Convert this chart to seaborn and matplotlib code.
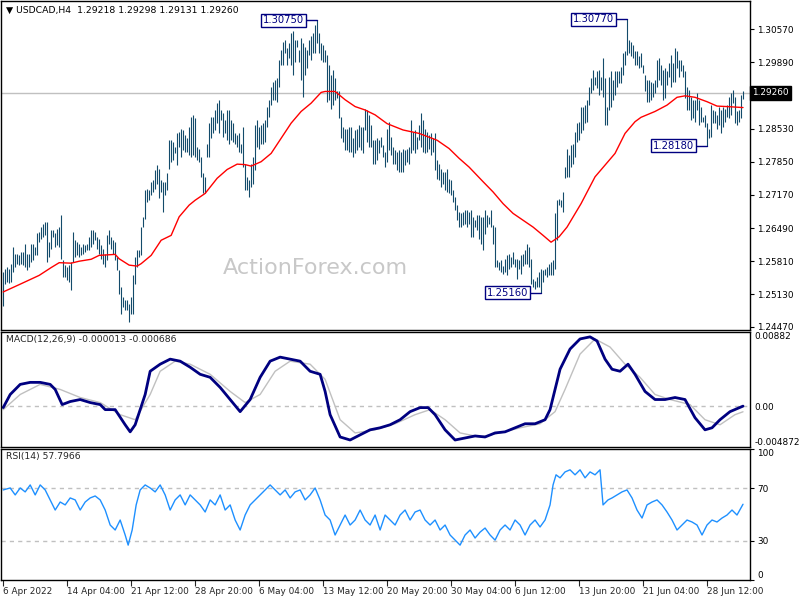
import numpy as np
import matplotlib
matplotlib.use("Agg")
import matplotlib.pyplot as plt
import seaborn as sns

# USDCAD H4 bars, high/low in pips (1e-4)
highs = np.array([
    12559, 12566, 12569, 12566, 12576, 12610, 12596, 12596, 12593, 12600,
    12600, 12617, 12596, 12596, 12617, 12617, 12610, 12638, 12641, 12651,
    12658, 12662, 12662, 12620, 12645, 12645, 12638, 12648, 12651, 12675,
    12583, 12573, 12569, 12573, 12579, 12641, 12624, 12620, 12617, 12610,
    12617, 12614, 12617, 12631, 12645, 12645, 12641, 12631, 12627, 12614,
    12607, 12596, 12634, 12645, 12631, 12624, 12620, 12590, 12562, 12528,
    12507, 12501, 12501, 12494, 12507, 12552, 12590, 12603, 12603, 12651,
    12672, 12727, 12730, 12727, 12744, 12747, 12768, 12778, 12771, 12747,
    12744, 12744, 12761, 12829, 12829, 12826, 12816, 12843, 12846, 12853,
    12850, 12840, 12833, 12857,
    12877, 12881, 12874, 12816, 12812, 12795, 12761, 12754, 12822, 12864,
    12877, 12877, 12891, 12905, 12912, 12891, 12884, 12870, 12891, 12891,
    12870, 12864, 12843, 12840, 12843, 12822, 12857, 12781, 12754, 12747,
    12781, 12795, 12860, 12870, 12857, 12860, 12864, 12870, 12898, 12912,
    12939, 12949, 12953, 12956, 12994, 13014, 13031, 13035, 13018, 13028,
    13049, 13052, 13035, 13035, 13014, 13038, 13028, 13021, 13014, 13035,
    13042, 13049, 13066, 13075, 13049, 13028, 13025, 13014, 13004, 12983,
    12963, 12973, 12956, 12929, 12929, 12877, 12857, 12853, 12853, 12857,
    12857, 12833, 12850, 12853, 12860, 12857, 12857, 12894, 12891, 12881,
    12860, 12829,
    12829, 12833, 12829, 12836, 12819, 12805, 12853, 12867, 12836, 12816,
    12809, 12805, 12809, 12805, 12812, 12809, 12812, 12816, 12870, 12846,
    12850, 12836, 12860, 12884, 12870, 12853, 12846, 12840, 12843, 12833,
    12843, 12788, 12781, 12771, 12764, 12764, 12771, 12750, 12747, 12727,
    12713, 12696, 12682, 12679, 12682, 12685, 12685, 12682, 12685, 12672,
    12665, 12675, 12675, 12672, 12672, 12685, 12675, 12672, 12685, 12655,
    12651, 12583, 12579, 12583, 12572, 12586, 12593, 12596, 12590, 12600,
    12586, 12586, 12583, 12593, 12596, 12603, 12617, 12610, 12586, 12545,
    12541, 12548, 12559, 12566, 12562, 12566, 12569, 12576, 12579, 12583,
    12679, 12706, 12709, 12706,
    12723, 12775, 12812, 12798, 12819, 12822, 12846, 12864, 12867, 12898,
    12898, 12901, 12912, 12939, 12956, 12973, 12959, 12970, 12973, 12959,
    12997, 12956, 12898, 12959, 12970, 12953, 12970, 12970, 12970, 12980,
    13007, 13011, 13077, 13035, 13031, 13025, 13011, 13011, 13001, 13007,
    12983, 12963, 12953, 12953, 12949, 12946, 12953, 12994, 12997, 12983,
    12973, 12977, 12970, 12987, 13004, 12987, 13018, 13011, 12994, 12994,
    12983, 12970, 12939, 12932, 12918, 12912, 12912, 12925, 12912, 12898,
    12877, 12881, 12864, 12853, 12901, 12891, 12888, 12881, 12898, 12891,
    12898, 12894, 12901, 12918, 12925, 12932, 12918, 12888, 12891, 12922,
    12930]) / 1e4

lows = np.array([
    12490, 12535, 12538, 12536, 12538, 12559, 12569, 12576, 12573, 12576,
    12573, 12569, 12562, 12569, 12579, 12583, 12593, 12593, 12620, 12627,
    12631, 12634, 12579, 12590, 12607, 12631, 12610, 12614, 12610, 12586,
    12548, 12548, 12542, 12538, 12521, 12579, 12590, 12593, 12590, 12593,
    12596, 12600, 12603, 12603, 12610, 12617, 12624, 12607, 12596, 12586,
    12576, 12569, 12583, 12617, 12607, 12596, 12583, 12562, 12514, 12473,
    12487, 12480, 12480, 12456, 12473, 12473, 12535, 12569, 12590, 12593,
    12651, 12668, 12703, 12706, 12716, 12723, 12730, 12740, 12710, 12723,
    12682, 12716, 12727, 12771, 12785, 12788, 12802, 12778, 12816, 12795,
    12809, 12805, 12805, 12799,
    12795, 12798, 12795, 12788, 12785, 12754, 12720, 12720, 12795, 12795,
    12833, 12843, 12850, 12864, 12843, 12870, 12836, 12843, 12829, 12822,
    12829, 12826, 12822, 12816, 12805, 12802, 12775, 12727, 12727, 12713,
    12733, 12740, 12768, 12816, 12812, 12822, 12822, 12826, 12857, 12877,
    12901, 12912, 12912, 12908, 12939, 12983, 12983, 13007, 12983, 12997,
    12983, 12963, 12990, 13021, 12990, 12953, 12918, 12963, 12977, 13004,
    12994, 13007, 13007, 13028, 13007, 12994, 12990, 12990, 12908, 12912,
    12894, 12901, 12912, 12915, 12874, 12833, 12826, 12809, 12809, 12805,
    12805, 12795, 12802, 12809, 12816, 12809, 12802, 12850, 12826, 12816,
    12816, 12781,
    12781, 12788, 12802, 12816, 12795, 12774, 12785, 12809, 12798, 12781,
    12781, 12768, 12764, 12764, 12764, 12778, 12785, 12781, 12802, 12809,
    12802, 12812, 12829, 12816, 12805, 12802, 12805, 12812, 12798, 12805,
    12768, 12750, 12747, 12733, 12740, 12727, 12723, 12720, 12716, 12703,
    12685, 12665, 12651, 12651, 12655, 12658, 12651, 12658, 12631, 12631,
    12651, 12644, 12627, 12617, 12603, 12637, 12651, 12658, 12651, 12617,
    12569, 12569, 12562, 12559, 12555, 12559, 12552, 12566, 12569, 12576,
    12569, 12545, 12566, 12555, 12572, 12576, 12576, 12569, 12535, 12528,
    12524, 12528, 12528, 12516, 12538, 12552, 12548, 12552, 12552, 12552,
    12566, 12624, 12696, 12692,
    12682, 12751, 12754, 12754, 12775, 12781, 12795, 12826, 12829, 12843,
    12850, 12864, 12867, 12901, 12925, 12932, 12942, 12936, 12922, 12932,
    12918, 12860, 12860, 12891, 12898, 12912, 12922, 12939, 12946, 12946,
    12963, 12983, 13004, 13007, 13001, 12997, 12983, 12983, 12977, 12980,
    12966, 12929, 12908, 12908, 12912, 12918, 12925, 12939, 12953, 12942,
    12912, 12915, 12942, 12959, 12939, 12949, 12949, 12977, 12959, 12970,
    12959, 12915, 12891, 12891, 12870, 12874, 12867, 12891, 12860, 12867,
    12867, 12857, 12818, 12833, 12836, 12864, 12864, 12853, 12860, 12843,
    12857, 12867, 12877, 12874, 12881, 12905, 12864, 12860, 12867, 12874,
    12913]) / 1e4

last_close = 1.29260
title_text = "\u25bc USDCAD,H4  1.29218 1.29298 1.29131 1.29260"

# red moving average (bar index, price in pips)
ma_idx = [0, 8, 18, 24, 28, 34, 38, 44, 48, 56, 58, 63, 67, 69, 74, 79, 84, 88, 93,
          96, 101, 107, 112, 117, 121, 124, 129, 134, 139, 144, 149, 154, 159, 161,
          166, 171, 176, 181, 186, 192, 200, 208, 217, 223, 228, 233, 240, 245, 250,
          255, 260, 265, 270, 274, 278, 282, 289, 296, 301, 306, 311, 316, 319, 326,
          332, 337, 341, 346, 352, 357, 362, 370]
ma_val = np.array([12518, 12533, 12552, 12568, 12578, 12577, 12581, 12585, 12593, 12595,
          12586, 12573, 12571, 12576, 12593, 12624, 12634, 12672, 12696,
          12706, 12720, 12751, 12769, 12780, 12779, 12776, 12785, 12802, 12833,
          12864, 12888, 12905, 12927, 12929, 12929, 12912, 12898, 12891, 12881,
          12863, 12850, 12843, 12829, 12812, 12792, 12774, 12744, 12723, 12699,
          12679, 12665, 12651, 12634, 12620, 12631, 12651, 12699, 12754, 12778,
          12802, 12843, 12867, 12876, 12888, 12901, 12917, 12920, 12917, 12908,
          12899, 12898, 12896]) / 1e4

# MACD(12,26,9) main line
macd_idx = [0, 3.5, 8.5, 13.5, 18.5, 23.5, 26, 29.5, 33.5, 38.5, 43.5, 48.5, 51, 56,
            61, 63.5, 66, 71, 73.5, 78.5, 83.5, 88.5, 93.5, 98.5, 103.5, 108.5,
            113.5, 118.5, 123.5, 128.5, 133.5, 138.5, 143.5, 148.5, 153.5, 158.5,
            161, 163.5, 168.5, 173.5, 178.5, 183.5, 188.5, 193.5, 198.5, 203.5,
            208.5, 212.5, 216, 221, 226, 231, 236, 241, 246, 251, 256, 261, 266,
            271, 273.5, 276, 278.5, 283.5, 288.5, 293.5, 297, 301, 304.5, 308.5,
            312.5, 316, 321, 326, 331, 336, 341, 346, 351, 354.5, 358.5, 363.5, 370]
macd_val = [-0.00019, 0.00137, 0.00257, 0.00281, 0.00281, 0.00257, 0.00197, 0.00017,
            0.00053, 0.00077, 0.00041, 0.00017, -0.00043, -0.00043, -0.00223, -0.00307,
            -0.00223, 0.00137, 0.00413, 0.00497, 0.00557, 0.00533, 0.00461, 0.00377,
            0.00341, 0.00221, 0.00077, -0.00067, 0.00077, 0.00341, 0.00533, 0.00581,
            0.00557, 0.00533, 0.00413, 0.00377, 0.00173, -0.00103, -0.00368, -0.00404,
            -0.00343, -0.00283, -0.00259, -0.00223, -0.00163, -0.00067, -0.00019,
            -0.00019, -0.00103, -0.00283, -0.00404, -0.00380, -0.00356, -0.00368,
            -0.00320, -0.00307, -0.00259, -0.00211, -0.00211, -0.00163, -0.00043,
            0.00197, 0.00437, 0.00677, 0.00797, 0.00822, 0.00773, 0.00557, 0.00437,
            0.00413, 0.00497, 0.00377, 0.00173, 0.00077, 0.00077, 0.00101, 0.00077,
            -0.00139, -0.00283, -0.00259, -0.00163, -0.00067, -0.000013]

# MACD signal line
sig_idx = [0, 8.5, 18.5, 28.5, 38.5, 48.5, 58.5, 66, 73.5, 78.5, 86, 93.5, 103.5, 113.5,
           121, 128.5, 136, 143.5, 153.5, 161, 168.5, 176, 186, 196, 206, 213.5, 221,
           228.5, 238.5, 248.5, 258.5, 268.5, 276, 281, 288.5, 296, 303.5, 311, 318.5,
           326, 333.5, 343.5, 351, 358.5, 366, 370]
sig_val = [-0.00043, 0.00137, 0.00257, 0.00197, 0.00101, 0.00041, -0.00103, -0.00163,
           0.00137, 0.00413, 0.00533, 0.00497, 0.00377, 0.00173, 0.00041, 0.00137,
           0.00413, 0.00533, 0.00497, 0.00317, -0.00163, -0.00320, -0.00283, -0.00211,
           -0.00103, -0.00043, -0.00163, -0.00320, -0.00368, -0.00320, -0.00259,
           -0.00211, -0.00067, 0.00197, 0.00617, 0.00797, 0.00701, 0.00497, 0.00341,
           0.00137, 0.00077, 0.00017, -0.00163, -0.00223, -0.00103, -0.000686]
macd_min, macd_max = -0.004872, 0.00882

# RSI(14)
rsi_idx = [0, 3.5, 6, 8.5, 11, 13.5, 16, 18.5, 21, 23.5, 26, 28.5, 31, 33.5, 36, 38.5,
           41, 43.5, 46, 48.5, 51, 53.5, 56, 58.5, 61, 62.5, 64.5, 66.5, 68.5, 71, 73.5,
           76, 78.5, 81, 83.5, 86, 88.5, 91, 93.5, 96, 98.5, 101, 103.5, 106, 108.5,
           111, 113.5, 116, 118.5, 121, 123.5, 126, 128.5, 131, 133.5, 136, 138.5, 141,
           143.5, 146, 148.5, 151, 153.5, 156, 158.5, 161, 163.5, 166, 168.5, 171,
           173.5, 176, 178.5, 181, 183.5, 186, 188.5, 191, 193.5, 196, 198.5, 201,
           203.5, 206, 208.5, 211, 213.5, 216, 218.5, 221, 223.5, 226, 228.5, 231,
           233.5, 236, 238.5, 241, 243.5, 246, 248.5, 251, 253.5, 256, 258.5, 261,
           263.5, 266, 268.5, 271, 273.5, 275, 276.5, 278.5, 281, 283.5, 286, 288.5,
           291, 293.5, 296, 298.5, 300, 302.5, 304.5, 307, 309.5, 312, 314.5, 317,
           319.5, 322, 324.5, 327, 329.5, 332, 334.5, 337, 339.5, 342, 344.5, 347,
           349.5, 352, 354.5, 357, 359.5, 362, 364.5, 367, 370]
rsi_val = [68.7, 70.2, 64.9, 70.2, 67.2, 72.5, 64.9, 72.5, 68.7, 61.1, 53.4, 59.5, 57.3,
           62.6, 61.1, 53.4, 59.5, 62.6, 64.1, 61.1, 53.4, 42.0, 38.2, 45.8, 34.4, 26.7,
           38.2, 57.3, 68.7, 72.5, 70.2, 67.2, 72.5, 64.9, 53.4, 61.1, 64.9, 57.3, 64.9,
           61.1, 57.3, 51.9, 61.1, 57.3, 64.9, 53.4, 57.3, 45.8, 38.2, 49.6, 57.3, 61.1,
           64.9, 68.7, 72.5, 68.7, 64.9, 68.7, 62.6, 67.2, 68.7, 61.1, 64.9, 70.2, 61.1,
           49.6, 45.8, 34.4, 42.0, 49.6, 42.0, 45.8, 53.4, 45.8, 42.0, 49.6, 38.2, 49.6,
           45.8, 42.0, 49.6, 53.4, 45.8, 51.9, 53.4, 45.8, 42.0, 45.8, 38.2, 42.0, 34.4,
           30.5, 26.7, 34.4, 38.2, 32.1, 36.6, 39.7, 34.4, 30.5, 38.2, 42.0, 38.2, 45.8,
           42.0, 34.4, 42.0, 45.8, 40.5, 45.8, 57.3, 72.5, 80.2, 77.9, 82.4, 84.0, 80.2,
           84.0, 77.9, 82.4, 80.2, 84.0, 57.3, 61.1, 62.6, 64.9, 67.2, 68.7, 62.6, 53.4,
           47.3, 57.3, 59.5, 61.1, 57.3, 51.9, 45.8, 38.2, 42.0, 45.8, 44.3, 42.0, 34.4,
           42.0, 45.8, 44.3, 47.3, 49.6, 53.4, 49.6, 57.8]
rsi_last = 57.7966

price_ticks = [1.24470, 1.25130, 1.25810, 1.26490, 1.27170, 1.27850, 1.28530, 1.29890, 1.30570]
date_pos = [0, 32, 64, 96, 128, 160, 192, 224, 256, 288, 320, 352]
date_labels = ["6 Apr 2022", "14 Apr 04:00", "21 Apr 12:00", "28 Apr 20:00", "6 May 04:00",
               "13 May 12:00", "20 May 20:00", "30 May 04:00", "6 Jun 12:00",
               "13 Jun 20:00", "21 Jun 04:00", "28 Jun 12:00"]

sns.set_theme(style="white")
plt.rcParams['font.family'] = ['DejaVu Sans']
plt.rcParams['axes.edgecolor'] = 'black'
plt.rcParams['axes.linewidth'] = 1.0

BAR_C = '#134b6b'
NAVY = '#000080'
GREY = '#c0c0c0'
FS = 6.4

fig = plt.figure(figsize=(8, 6), dpi=100)
L, W = 0.0015, 0.936
ax1 = fig.add_axes([L, 0.450, W, 0.548])
ax2 = fig.add_axes([L, 0.255, W, 0.192])
ax3 = fig.add_axes([L, 0.033, W, 0.219])
bars = np.arange(len(highs))
xlim = (-1, 373.5)

for ax in (ax1, ax2, ax3):
    ax.set_xlim(*xlim)
    ax.yaxis.tick_right()
    ax.tick_params(axis='y', direction='out', length=3, width=0.8, labelsize=FS,
                   colors='black', pad=2, right=True, left=False)
    ax.tick_params(axis='x', bottom=False, labelbottom=False)
    for s in ax.spines.values():
        s.set_color('black')
        s.set_linewidth(1)

# ---- price panel
ax1.set_ylim(1.2440, 1.3114)
ax1.axhline(last_close, color=GREY, lw=1, zorder=1)
ax1.vlines(bars, lows, highs, color=BAR_C, lw=0.8, zorder=2)
sns.lineplot(x=ma_idx, y=ma_val, ax=ax1, color='red', lw=1, zorder=3)
ax1.set_yticks(price_ticks)
ax1.set_yticklabels([f"{t:.5f}" for t in price_ticks])
ax1.text(1.003, last_close, f"{last_close:.5f}", transform=ax1.get_yaxis_transform(),
         ha='left', va='center', fontsize=FS, color='white',
         bbox=dict(boxstyle='square,pad=0.25', fc='black', ec='black'))
ax1.text(0.006, 0.972, title_text, transform=ax1.transAxes, fontsize=FS + 0.3,
         ha='left', va='center', color='black')
ax1.text(0.42, 0.19, "ActionForex.com", transform=ax1.transAxes, fontsize=16,
         color='#c8c8c8', ha='center', va='center')

# swing high / low labels
i_h1 = int(np.argmax(highs[:250]))
i_h2 = 250 + int(np.argmax(highs[250:]))
i_l1 = 200 + int(np.argmin(lows[200:300]))
i_l2 = 330 + int(np.argmin(lows[330:]))
for i, v in [(i_h1, highs[i_h1]), (i_h2, highs[i_h2]), (i_l1, lows[i_l1]), (i_l2, lows[i_l2])]:
    ax1.annotate(f"{v:.5f}", xy=(i, v), xytext=(-13, 0), textcoords='offset pixels',
                 ha='right', va='center', fontsize=7.2, color=NAVY,
                 bbox=dict(boxstyle='square,pad=0.15', fc='white', ec=NAVY, lw=1),
                 arrowprops=dict(arrowstyle='-', color=NAVY, lw=1, shrinkA=0, shrinkB=0,
                                 relpos=(1, 0.5),
                                 connectionstyle='angle,angleA=0,angleB=90,rad=0'))

# ---- MACD panel
ax2.set_ylim(macd_min, macd_max)
ax2.axhline(0, color=GREY, lw=1, ls=(0, (3, 3)))
sns.lineplot(x=sig_idx, y=sig_val, ax=ax2, color=GREY, lw=1)
sns.lineplot(x=macd_idx, y=macd_val, ax=ax2, color=NAVY, lw=2.0)
ax2.set_yticks([macd_min, 0, macd_max])
ax2.set_yticklabels(['-0.004872', '0.00', '0.00882'])
lbls = ax2.get_yticklabels()
lbls[0].set_va('bottom')
lbls[2].set_va('top')
ax2.tick_params(axis='y', length=0, pad=3)
ax2.text(0.006, 0.93, "MACD(12,26,9) -0.000013 -0.000686", transform=ax2.transAxes,
         fontsize=FS + 0.3, ha='left', va='center')

# ---- RSI panel
ax3.set_ylim(0, 100)
for lv in (30, 70):
    ax3.axhline(lv, color=GREY, lw=1, ls=(0, (3, 3)))
sns.lineplot(x=rsi_idx, y=rsi_val, ax=ax3, color='#1e90ff', lw=1)
ax3.set_yticks([0, 30, 70, 100])
ax3.set_yticklabels(['0', '30', '70', '100'])
l3 = ax3.get_yticklabels()
l3[0].set_va('bottom')
l3[3].set_va('top')
ax3.text(0.006, 0.94, f"RSI(14) {rsi_last:.4f}", transform=ax3.transAxes,
         fontsize=FS + 0.3, ha='left', va='center')
ax3.set_xticks(date_pos)
ax3.set_xticklabels(date_labels, ha='left')
ax3.tick_params(axis='x', bottom=True, labelbottom=True, direction='out', length=4,
                width=0.8, labelsize=FS, pad=1)

for ax in (ax1, ax2, ax3):
    ax.set_xlabel('')
    ax.set_ylabel('')

fig.savefig("out.png", dpi=100)
